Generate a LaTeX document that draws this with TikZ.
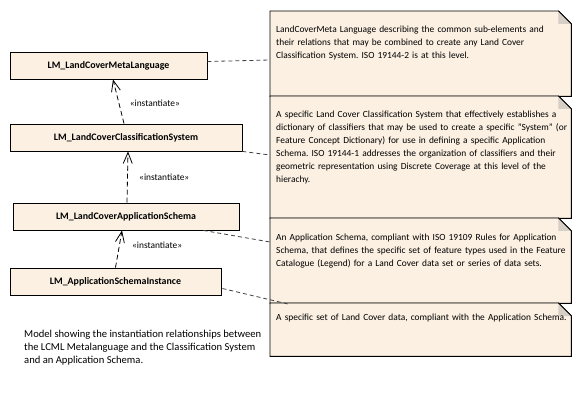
\documentclass[tikz,border=0pt]{standalone}
\usepackage{fontspec}
\setmainfont{Carlito}
\usetikzlibrary{arrows.meta,backgrounds}
\definecolor{boxfill}{RGB}{251,240,226}
\definecolor{foldgray}{RGB}{214,207,198}
\begin{document}
\begin{tikzpicture}[x=1pt,y=-1pt,
		font=\fontsize{9.9}{13}\selectfont,
		classbox/.style={draw,fill=boxfill,line width=0.9pt,minimum height=27pt,inner sep=0pt,font=\fontsize{9.9}{13}\selectfont\bfseries},
		notebox/.style={anchor=north west,minimum width=301pt,inner sep=0pt},
		notetext/.style={anchor=north west,inner sep=0pt,align=left,text width=330pt,font=\fontsize{9.4}{13}\selectfont},
		instarrow/.style={line width=0.8pt,dash pattern=on 5pt off 3pt,-{Straight Barb[length=11pt,width=9pt]}},
		notelink/.style={line width=0.8pt,dash pattern=on 4pt off 3pt,black!75}]
		\useasboundingbox (0,0) rectangle (580,411);
		
		\node[classbox,minimum width=197pt] (c1) at (108.5,65.5) {LM\_LandCoverMetaLanguage};
		\node[classbox,minimum width=232pt] (c2) at (126,137.5) {LM\_LandCoverClassificationSystem};
		\node[classbox,minimum width=226pt] (c3) at (126,216.5) {LM\_LandCoverApplicationSchema};
		\node[classbox,minimum width=211pt] (c4) at (115.5,281.5) {LM\_ApplicationSchemaInstance};
		
		\node[notebox,minimum height=85pt] (n1) at (270,11) {};
		\node[notebox,minimum height=122pt] (n2) at (270,96) {};
		\node[notebox,minimum height=85pt] (n3) at (270,218) {};
		\node[notebox,minimum height=53pt] (n4) at (270,303) {};
		
		\begin{scope}[on background layer]
		\foreach \n in {n1,n2,n3,n4}{
			\draw[line width=0.9pt,fill=boxfill] (\n.south west) -- (\n.north west) -- ([xshift=-13pt]\n.north east) -- ([yshift=-13pt]\n.north east) -- (\n.south east) -- cycle;
			\fill[foldgray] ([xshift=-13pt]\n.north east) -- ([xshift=-13pt,yshift=-13pt]\n.north east) -- ([yshift=-13pt]\n.north east) -- cycle;
			\draw[line width=0.9pt] ([xshift=-13pt]\n.north east) -- ([yshift=-13pt]\n.north east);
		}
		\end{scope}
		
		\node[notetext] (t1) at ([xshift=6pt,yshift=-15pt]n1.north west) {LandCoverMeta Language describing the common sub-elements and\\their relations that may be combined to create any Land Cover\\Classification System.~ISO 19144-2 is at this level.};
		\node[notetext] (t2) at ([xshift=6pt,yshift=-15pt]n2.north west) {A specific Land Cover Classification System that effectively establishes a\\dictionary of classifiers that may be used to create a specific "System" (or\\Feature Concept Dictionary) for use in defining a specific Application\\Schema.~ISO 19144-1 addresses the organization of classifiers and their\\geometric representation using Discrete Coverage at this level of the\\hierachy.};
		\node[notetext] (t3) at ([xshift=6pt,yshift=-16pt]n3.north west) {An Application Schema, compliant with ISO 19109 Rules for Application\\Schema, that defines the specific set of feature types used in the Feature\\Catalogue (Legend) for a Land Cover data set or series of data sets.};
		\node[notetext] (t4) at ([xshift=6pt,yshift=-11pt]n4.north west) {A specific set of Land Cover data, compliant with the Application Schema.};
		
		\node[anchor=north west,inner sep=0pt,align=left,font=\fontsize{10.6}{13}\selectfont] (caption) at (24,330) {Model showing the instantiation relationships between\\the LCML Metalanguage and the Classification System\\and an Application Schema.};
		
		\draw[instarrow] ([xshift=-2pt]c2.north) -- node[right=7pt,pos=.45,font=\fontsize{9.4}{13}\selectfont] (l1) {«instantiate»} ([xshift=4.5pt]c1.south);
		\draw[instarrow] ([xshift=1pt]c3.north) -- node[right=8pt,pos=.5,font=\fontsize{9.4}{13}\selectfont] (l2) {«instantiate»} ([xshift=2pt]c2.south);
		\draw[instarrow] (c4.north) -- node[right=9pt,pos=.6,font=\fontsize{9.4}{13}\selectfont] (l3) {«instantiate»} ([xshift=-4pt]c3.south);
		
		\draw[notelink] ([yshift=4pt]c1.east) -- (n1.west |- 0,60);
		\draw[notelink] (c2.south east) -- ([yshift=-59pt]n2.north west);
		\draw[notelink] ([xshift=-36pt]c3.south east) -- ([yshift=-24pt]n3.north west);
		\draw[notelink] ([xshift=1pt,yshift=-7pt]c4.east) -- ([xshift=18pt,yshift=-1pt]n4.north west);
		
\end{tikzpicture}
\end{document}
